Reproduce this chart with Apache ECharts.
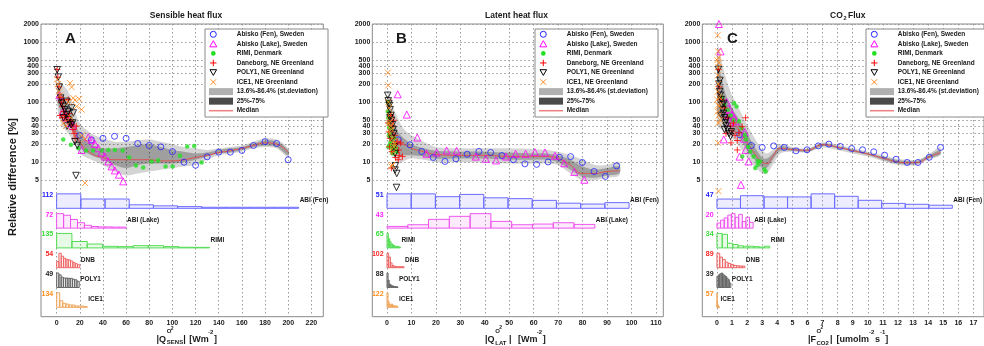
<!DOCTYPE html>
<html>
<head>
<meta charset="utf-8">
<script src="https://cdn.jsdelivr.net/npm/echarts@6/dist/echarts.min.js"></script>
<style>
  html, body { margin: 0; padding: 0; background: #fff; }
  #chart { width: 984px; height: 346px; }
</style>
</head>
<body>
<div id="chart"></div>
<script>
const FONT = '"Liberation Sans", Arial, sans-serif';

// ---- names / ticks ----
const stationNames = ['Abisko (Fen), Sweden', 'Abisko (Lake), Sweden', 'RIMI, Denmark',
  'Daneborg, NE Greenland', 'POLY1, NE Greenland', 'ICE1, NE Greenland'];
const histLabels = ['ABI (Fen)', 'ABI (Lake)', 'RIMI', 'DNB', 'POLY1', 'ICE1'];
const bandNames = ['13.6%-86.4% (st.deviation)', '25%-75%', 'Median'];
const yTicks = [5, 10, 20, 30, 40, 50, 100, 200, 300, 400, 500, 1000, 2000];
const xTicksA = [0, 20, 40, 60, 80, 100, 120, 140, 160, 180, 200, 220];
const xTicksB = [0, 10, 20, 30, 40, 50, 60, 70, 80, 90, 100, 110];
const xTicksC = [0, 1, 2, 3, 4, 5, 6, 7, 8, 9, 10, 11, 12, 13, 14, 15, 16, 17];

// ---- panel A: sensible heat flux ----
const fenA = [[20,28],[30,23.5],[40,25],[50,27],[60,25],[70,20.5],[80,19],[90,18],[100,15],[110,10],
  [120,8.9],[130,12.3],[140,14.7],[150,14.7],[160,15.7],[170,19],[180,22],[190,20.5],[200,11]];
const lakeA = [[2.3,130],[5.5,70],[8.5,55],[11.5,45],[14,40],[21.5,16],[27.3,26],[30.2,23.6],[33,20.2],
  [36,17.1],[38.8,14.5],[41.7,12.4],[44.6,10.3],[47.5,8.5],[50.3,7.3],[53.8,6.2],[57.5,4.8]];
const rimiA = [[5.7,24],[12.3,19.5],[18.7,17],[25.3,15.7],[31.6,15.7],[38.8,15.7],[44.6,16],[50.3,16],
  [57,15.7],[62.7,12],[68.5,8.8],[74.8,8.2],[82,10.3],[87.7,10.7],[94.1,8.5],[100.2,8.5],[106.5,12.8],
  [112.8,18.3],[118.8,18.7],[125.2,9.9]];
const danA = [[0.5,350],[1,260],[2,180],[3,120],[4,100],[5,85],[6,70],[7,60],[8,55],[9,50],[10,110],
  [11,65],[12,50],[13,42],[14,35],[15,30],[16,25],[6,110],[3,60],[5,55],[17,40]];
const polyA = [[0.5,346],[1.4,261],[2.3,178],[3.5,117],[4.3,96],[5.7,85],[7.2,75],[8.6,62],[10,51],
  [11.5,45],[12.4,42],[13.9,45],[14.4,66],[13,80],[10,70],[8.6,103],[6,55],[9,40],[15.8,22],[17.8,19],[16.7,6]];
const iceA = [[0.5,240],[1,200],[2,150],[3,130],[11.5,207],[13,178],[14.4,117],[15.8,108],[19.5,113],
  [21.6,75],[17.3,85],[10,100],[6,45],[8,40],[12,55],[22,28],[24.5,24],[24.5,4.5]];
const bandA_x   = [1, 5, 10, 15, 20, 30, 40, 50, 60, 70, 80, 90, 100, 110, 120, 130, 140, 150, 160, 170, 180, 190, 200];
const bandA_lo1 = [70, 40, 30, 22, 14, 11, 9, 7, 6, 6.5, 7, 7.5, 8, 8.5, 9, 11, 13, 14, 15, 17, 18, 17, 12];
const bandA_hi1 = [250, 200, 150, 80, 45, 30, 25, 22, 22, 23, 24, 22, 20, 18, 17, 16, 17, 18, 19, 22, 25, 24, 17];
const bandA_lo2 = [100, 60, 45, 30, 18, 13, 11, 9, 8, 9, 9.5, 9.5, 9.5, 10, 11, 12.5, 14, 14.5, 16, 18, 19, 18, 13];
const bandA_hi2 = [180, 130, 90, 50, 30, 20, 17, 17, 18, 19, 20, 18, 16, 15, 14, 14.5, 16, 17, 18, 20.5, 23, 22, 16];
const bandA_med = [150, 90, 60, 38, 22, 14, 12, 11, 11, 11, 11, 10.5, 10.5, 11, 12, 13, 14.5, 15.5, 17, 19, 21, 20, 14.5];
const histEndA = [209, 60, 132, 20, 19.5, 26.5];
const histA = [
  [112, 72, 72, 27, 19, 13, 8, 8, 8, 8],
  [72, 64, 43, 27, 14, 8, 6, 6, 5, 5],
  [135, 60, 36, 15, 12, 21, 21, 12, 6, 5],
  [23, 54, 43, 35, 31, 29, 25, 19, 15, 11],
  [49, 43, 35, 32, 32, 31, 31, 28, 26, 21],
  [134, 61, 37, 30, 21, 21, 12, 12, 12, 6]
];

// ---- panel B: latent heat flux ----
const fenB = [[4.6,23.6],[9.4,19.5],[14.2,15.1],[18.9,12],[23.7,10.3],[28.2,11.4],[32.8,13.6],[37.6,15.1],
  [42.4,14.5],[47,12.9],[51.7,11],[56.4,9.4],[61.2,9.2],[65.9,10.1],[70.5,12.1],[75.1,12.4],[79.9,9.9],
  [84.7,7],[89.3,5.8],[93.9,8.7]];
const lakeB = [[4.4,135],[8.1,62],[12.4,25.8],[16.2,13.8],[20.3,14.5],[24.4,15.7],[28.5,15.5],[36.3,12.4],
  [40.4,11.4],[44.6,10.7],[48.7,12.4],[52.6,13.8],[56.7,13.8],[60.5,14.7],[64.6,14.5],[68.7,12.8],
  [72.5,9.6],[76.6,6.9],[80.7,5.1]];
const rimiB = [[0.3,70],[0.5,55],[0.7,45],[0.9,38],[1.1,30],[1.3,26],[1.5,22],[1.7,18],[2,15],[2.3,14],
  [0.4,100],[0.8,28],[1.2,20],[1.6,35],[2.5,17],[3,25],[3.3,20],[3.6,17],[4,15],[0.6,18]];
const danB = [[1.5,60],[2.7,50],[0.8,32],[1.2,25],[3.2,28],[4.2,22],[4.8,16],[5,13],[4.6,11],[3.8,20],
  [2,15],[1.8,8],[3.5,12],[2.2,40],[0.5,45],[1,18],[5.6,21],[6.3,12.4]];
const polyB = [[0.3,130],[0.5,105],[0.8,95],[1,88],[1.3,75],[1.6,60],[1.9,50],[2.2,42],[2.5,35],[2.8,30],
  [3,18],[3.3,14],[3.4,8.7],[3.3,7.4],[4,6.5],[3.9,3.8],[1.2,55],[2,25]];
const iceB = [[0.4,310],[0.5,190],[0.6,100],[0.9,80],[1.1,60],[1.4,48],[1.8,35],[2.2,25],[2.6,22],[3,20],
  [2.8,18],[1.6,40],[1.2,30],[1.8,8.5],[2.1,9],[0.7,45],[2.4,15]];
const bandB_x   = [0.5, 2, 4, 6, 8, 10, 15, 20, 30, 40, 50, 60, 65, 70, 75, 80, 85, 90, 95];
const bandB_lo1 = [30, 15, 10, 10, 11, 11.5, 11, 10, 10, 10, 9.5, 9.5, 9.5, 9, 6.5, 5, 5, 5.5, 6];
const bandB_hi1 = [150, 90, 60, 40, 32, 28, 22, 18, 17, 17, 17, 16.5, 16, 15, 13, 11, 9, 9, 10];
const bandB_lo2 = [50, 22, 14, 13, 13, 13, 12.5, 11.5, 11.5, 11.5, 11, 11, 11, 10, 7.5, 5.8, 5.5, 6, 6.5];
const bandB_hi2 = [100, 60, 35, 27, 23, 20, 17, 15.5, 15, 15, 14.5, 14, 14, 13, 11, 8.5, 7.5, 8, 8.5];
const bandB_med = [70, 35, 22, 20, 19, 17, 15, 13.5, 13, 13, 12.5, 12.5, 12.5, 11.5, 9, 6.5, 6.5, 7, 7.2];
const histEndB = [99, 85, 5.5, 7, 4.5, 4.5];
const histB = [
  [51, 51, 41, 49, 37, 34, 28, 18, 15, 20],
  [5, 10, 26, 35, 43, 20, 10, 12, 16, 11],
  [65, 43, 29, 19, 14, 10, 7, 7, 6, 4],
  [102, 75, 34, 16, 11, 7, 7, 7, 7, 7],
  [88, 45, 21, 16, 10, 10, 6, 6, 4, 4],
  [122, 47, 28, 19, 28, 17, 14, 11, 11, 8]
];

// ---- panel C: CO2 flux ----
const fenC = [[1.5,28.6],[2.28,19],[3.0,17.6],[3.76,18.7],[4.46,17.6],[5.24,15.5],[5.97,16.1],[6.72,18.7],
  [7.42,20],[8.17,18.3],[8.93,16.9],[9.65,16.1],[10.39,14.9],[11.11,13.1],[11.87,11.2],[12.61,9.9],
  [13.32,9.9],[14.07,12.1],[14.82,17.6]];
const lakeC = [[0.13,2000],[0.24,700],[0.45,24],[0.65,100],[0.85,75],[1.0,62],[1.15,55],[1.25,48],[0.9,45],
  [1.5,12.4],[1.59,4.2],[1.78,24.6],[1.9,16],[2.1,10.3],[1.85,32],[0.75,60]];
const rimiC = [[1.14,96],[1.3,85],[1.46,48],[1.63,37],[1.85,28],[1.93,24],[2.06,18],[2.21,15],[2.43,12.4],
  [2.71,10.5],[2.86,10.3],[3.14,7.6],[3.23,7],[2.7,9],[2.54,8],[1.68,12.4],[0.5,90],[0.7,75],[0.9,60],
  [1.1,50],[0.3,120]];
const danC = [[0.1,350],[0.15,180],[0.3,110],[0.5,80],[0.7,55],[0.9,40],[1.0,33],[1.2,28],[1.46,31],
  [1.67,39],[1.9,55],[1.35,23],[0.93,21],[1.35,16],[0.6,30],[1.1,45]];
const polyC = [[0.1,350],[0.12,200],[0.18,150],[0.22,130],[0.28,110],[0.33,90],[0.38,75],[0.43,65],
  [0.5,55],[0.55,45],[0.6,40],[0.7,35],[0.8,30],[0.9,27],[0.95,32],[0.3,60],[0.6,50],[0.45,95],[0.2,230],[0.5,35]];
const iceC = [[0.05,1300],[0.08,700],[0.1,550],[0.12,450],[0.1,380],[0.06,280],[0.08,200],[0.15,120],
  [0.1,90],[0.05,70],[0.12,60],[0.2,50],[0.1,45],[0.08,21],[0.1,3.3],[0.03,500],[0.06,150],[0.14,85],[0.02,110]];
const bandC_x   = [0.05, 0.3, 0.6, 1.0, 1.5, 2.0, 2.5, 3.0, 3.3, 3.7, 4.2, 5, 6, 7, 8, 9, 10, 11, 12, 12.6, 13.3, 14, 14.8];
const bandC_lo1 = [40, 35, 30, 25, 18, 12, 8.5, 6.5, 6.5, 9, 14, 15, 14.5, 17.5, 16, 14, 12.5, 10.5, 9, 8.8, 9, 11, 13];
const bandC_hi1 = [900, 500, 250, 130, 75, 42, 25, 16, 14, 16, 20, 18, 17, 21.5, 19.5, 17, 15, 13, 11.3, 11, 11, 13.5, 18];
const bandC_lo2 = [60, 55, 45, 35, 25, 16, 11, 8, 8, 11, 15.5, 15.5, 15, 18.5, 17, 15, 13.2, 11, 9.4, 9.2, 9.4, 11.5, 13.5];
const bandC_hi2 = [500, 250, 130, 80, 50, 30, 18, 12, 11.5, 14, 18.5, 17, 16.5, 20.5, 18.5, 16.3, 14.3, 12.3, 10.8, 10.5, 10.5, 12.8, 16];
const bandC_med = [150, 110, 70, 50, 33, 21, 14, 10, 9.5, 12.5, 17, 16.2, 15.8, 19.5, 17.8, 15.6, 13.7, 11.7, 10.1, 9.8, 9.9, 12, 14.5];
const histEndC = [15.6, 2.4, 3.5, 1.85, 0.92, 0.17];
const histC = [
  [30, 41, 37, 37, 47, 39, 26, 16, 13, 10],
  [7, 11, 14, 18, 20, 15, 19, 9, 15, 8],
  [34, 32, 11, 8, 5, 4, 4, 3, 2, 4],
  [89, 65, 50, 34, 26, 20, 14, 12, 10, 10],
  [30, 34, 37, 39, 36, 32, 30, 25, 21, 12],
  [57, 26, 16, 10, 6, 4, 3, 2, 1, 1]
];

// ---- styles ----
const stationColor = ['#2222ff', '#ff00ff', '#22e022', '#ff0000', '#000000', '#ff8a1e'];
const markers = [
  { symbol: 'circle', size: 6, itemStyle: { color: 'none', borderColor: stationColor[0], borderWidth: 1 } },
  { symbol: 'triangle', size: 7, itemStyle: { color: 'none', borderColor: stationColor[1], borderWidth: 1 } },
  { symbol: 'circle', size: 4.5, itemStyle: { color: stationColor[2] } },
  { symbol: 'path://M5,0L5,10M0,5L10,5', size: 6.5, itemStyle: { color: 'none', borderColor: stationColor[3], borderWidth: 1 } },
  { symbol: 'path://M0,0L10,0L5,8.66Z', size: 6.5, itemStyle: { color: 'none', borderColor: stationColor[4], borderWidth: 1 } },
  { symbol: 'path://M0,0L10,10M10,0L0,10', size: 6, itemStyle: { color: 'none', borderColor: stationColor[5], borderWidth: 1 } }
];
const histStroke = ['#6b6bff', '#ee55ee', '#55dd55', '#ee6666', '#666666', '#f0a860'];
const histFill = ['rgba(107,107,255,0.12)', 'rgba(238,85,238,0.12)', 'rgba(85,221,85,0.15)',
  'rgba(238,102,102,0.12)', 'rgba(102,102,102,0.15)', 'rgba(240,168,96,0.15)'];
const countColor = ['#2222ff', '#ff22ff', '#33dd33', '#ff2222', '#222222', '#ff8c1a'];

const panels = [
  { left: 41, width: 282.3, min: -13.5, max: 230.3, ticks: xTicksA, legendLeft: 205,
    scatter: [fenA, lakeA, rimiA, danA, polyA, iceA],
    bx: bandA_x, lo1: bandA_lo1, hi1: bandA_hi1, lo2: bandA_lo2, hi2: bandA_hi2, med: bandA_med,
    hist: histA, histEnd: histEndA },
  { left: 372.3, width: 291, min: -6, max: 113, ticks: xTicksB, legendLeft: 535,
    scatter: [fenB, lakeB, rimiB, danB, polyB, iceB],
    bx: bandB_x, lo1: bandB_lo1, hi1: bandB_hi1, lo2: bandB_lo2, hi2: bandB_hi2, med: bandB_med,
    hist: histB, histEnd: histEndB },
  { left: 702.3, width: 291, min: -0.97, max: 17.7, ticks: xTicksC, legendLeft: 866,
    scatter: [fenC, lakeC, rimiC, danC, polyC, iceC],
    bx: bandC_x, lo1: bandC_lo1, hi1: bandC_hi1, lo2: bandC_lo2, hi2: bandC_hi2, med: bandC_med,
    hist: histC, histEnd: histEndC }
];

const grid = [], xAxis = [], yAxis = [], series = [], graphic = [];
const tickFont = { fontSize: 7, fontWeight: 'bold', fontFamily: FONT, color: '#1a1a1a' };
const dotted = { show: true, lineStyle: { color: '#9a9a9a', width: 1, type: [1.5, 2.5] } };

function bandSeries(axis, xs, lo, hi, name, color, z) {
  return {
    type: 'custom', name, xAxisIndex: axis, yAxisIndex: axis, z, silent: true,
    data: [[xs[0], hi[0]]],
    renderItem: (params, api) => {
      const upper = xs.map((x, k) => api.coord([x, hi[k]]));
      const lower = xs.map((x, k) => api.coord([x, lo[k]])).reverse();
      return { type: 'polygon', shape: { points: upper.concat(lower), smooth: 0.3 }, style: { fill: color } };
    }
  };
}

function txt(x, y, text, size, align, rotation) {
  return { type: 'text', x, y, rotation: rotation || 0, z: 12,
    style: { text, fontSize: size, fontWeight: 'bold', fontFamily: FONT, fill: '#1a1a1a',
      align: align || 'left', verticalAlign: 'middle' } };
}

// legend box drawn as graphic: marker sample, patch or line, then the label
function legendBox(left) {
  const out = [{ type: 'rect', z: 11, shape: { x: left, y: 29, width: 123, height: 88 },
    style: { fill: '#ffffff', stroke: '#8a8a8a', lineWidth: 1 } }];
  const mx = left + 8.3;
  const rowY = r => 34.3 + r * 9.55;
  const ln = (x1, y1, x2, y2, c, w) => ({ type: 'line', z: 12,
    shape: { x1, y1, x2, y2 }, style: { stroke: c, lineWidth: w || 1 } });
  let y = rowY(0);
  out.push({ type: 'circle', z: 12, shape: { cx: mx, cy: y, r: 3 }, style: { fill: 'none', stroke: stationColor[0], lineWidth: 1 } });
  y = rowY(1);
  out.push({ type: 'polygon', z: 12, shape: { points: [[mx - 3.5, y + 3], [mx + 3.5, y + 3], [mx, y - 3.2]] },
    style: { fill: 'none', stroke: stationColor[1], lineWidth: 1 } });
  y = rowY(2);
  out.push({ type: 'circle', z: 12, shape: { cx: mx, cy: y, r: 2.3 }, style: { fill: stationColor[2] } });
  y = rowY(3);
  out.push(ln(mx - 3.2, y, mx + 3.2, y, stationColor[3]), ln(mx, y - 3.2, mx, y + 3.2, stationColor[3]));
  y = rowY(4);
  out.push({ type: 'polygon', z: 12, shape: { points: [[mx - 3.3, y - 2.8], [mx + 3.3, y - 2.8], [mx, y + 2.9]] },
    style: { fill: 'none', stroke: stationColor[4], lineWidth: 1 } });
  y = rowY(5);
  out.push(ln(mx - 2.8, y - 2.8, mx + 2.8, y + 2.8, stationColor[5]), ln(mx - 2.8, y + 2.8, mx + 2.8, y - 2.8, stationColor[5]));
  out.push({ type: 'rect', z: 12, shape: { x: left + 4, y: rowY(6) - 3.5, width: 24, height: 7 }, style: { fill: '#b0b0b0' } });
  out.push({ type: 'rect', z: 12, shape: { x: left + 4, y: rowY(7) - 3.5, width: 24, height: 7 }, style: { fill: '#4a4a4a' } });
  out.push(ln(left + 4, rowY(8), left + 28, rowY(8), '#f08080', 1.5));
  stationNames.concat(bandNames).forEach((s, r) => out.push(txt(left + 31.7, rowY(r), s, 6.5)));
  return out;
}

panels.forEach((p, i) => {
  const m = 2 * i, h = 2 * i + 1;
  grid.push({ left: p.left, top: 24, width: p.width, height: 292.7, show: true,
    borderColor: '#8a8a8a', borderWidth: 1, backgroundColor: 'transparent' });
  grid.push({ left: p.left, top: 188.5, width: p.width, height: 118.8, show: false });

  xAxis.push({ type: 'value', gridIndex: m, min: p.min, max: p.max,
    axisLine: { show: false }, axisTick: { show: false, customValues: p.ticks },
    axisLabel: Object.assign({ customValues: p.ticks, margin: 3 }, tickFont),
    splitLine: dotted });
  xAxis.push({ type: 'value', gridIndex: h, min: p.min, max: p.max, show: false });

  yAxis.push({ type: 'log', logBase: 10, gridIndex: m, min: 0.0268, max: 2000,
    axisLine: { show: false }, axisTick: { show: false, customValues: yTicks },
    axisLabel: Object.assign({ customValues: yTicks, margin: 2,
      formatter: v => String(+Number(v).toPrecision(4)) }, tickFont),
    splitLine: dotted });
  yAxis.push({ type: 'value', gridIndex: h, min: 0, max: 6, show: false });

  series.push(bandSeries(m, p.bx, p.lo1, p.hi1, bandNames[0], 'rgba(0,0,0,0.17)', 1));
  series.push(bandSeries(m, p.bx, p.lo2, p.hi2, bandNames[1], 'rgba(0,0,0,0.25)', 1));
  series.push({ type: 'line', name: bandNames[2], xAxisIndex: m, yAxisIndex: m, z: 2,
    smooth: true, symbol: 'none', silent: true,
    lineStyle: { color: '#e84848', width: 0.9 }, itemStyle: { color: '#e84848' },
    data: p.bx.map((x, k) => [x, p.med[k]]) });

  p.scatter.forEach((pts, k) => {
    series.push({ type: 'scatter', name: stationNames[k], xAxisIndex: m, yAxisIndex: m, z: 3,
      symbol: markers[k].symbol, symbolSize: markers[k].size, itemStyle: markers[k].itemStyle,
      silent: true, data: pts });
  });

  series.push({
    type: 'custom', xAxisIndex: h, yAxisIndex: h, z: 4, silent: true,
    data: [0, 1, 2, 3, 4, 5].map(k => [0, 5 - k]),
    renderItem: (params, api) => {
      const k = params.dataIndex;
      const counts = p.hist[k], end = p.histEnd[k], slot = 5 - k, n = counts.length;
      const mx = Math.max.apply(null, counts);
      const children = counts.map((c, j) => {
        const a = api.coord([end * j / n, slot + c / mx * 0.73]);
        const b = api.coord([end * (j + 1) / n, slot]);
        return { type: 'rect', shape: { x: a[0], y: a[1], width: b[0] - a[0], height: b[1] - a[1] },
          style: { fill: histFill[k], stroke: histStroke[k], lineWidth: 1 } };
      });
      const top = api.coord([0, slot + 0.73]);
      children.push({ type: 'text', x: top[0] - 3.4, y: top[1] + 1,
        style: { text: String(mx), fill: countColor[k], align: 'right', verticalAlign: 'middle',
          fontSize: 7, fontWeight: 'bold', fontFamily: FONT } });
      const nm = api.coord([end, slot + 0.4]);
      children.push({ type: 'text', x: nm[0] + 1, y: nm[1],
        style: { text: histLabels[k], fill: '#1a1a1a', align: 'left', verticalAlign: 'middle',
          fontSize: 6.5, fontWeight: 'bold', fontFamily: FONT } });
      return { type: 'group', children };
    }
  });

  graphic.push.apply(graphic, legendBox(p.legendLeft));
});

graphic.push(
  txt(186, 15.5, 'Sensible heat flux', 8.5, 'center'),
  txt(516.5, 15.5, 'Latent heat flux', 8.5, 'center'),
  txt(830, 15.5, 'CO', 8.5), txt(843.5, 18.5, '2', 5.5), txt(848, 15.5, 'Flux', 8.5),
  txt(65, 38.5, 'A', 15), txt(396, 38.5, 'B', 15), txt(727, 38.5, 'C', 15),
  txt(13, 177, 'Relative difference [%]', 11, 'center', Math.PI / 2),
  // panel A axis name
  txt(156.5, 339.3, '|Q', 9), txt(166.8, 331.5, 'O', 6), txt(170.8, 328.5, '2', 5),
  txt(166.8, 342.8, 'SENS', 6), txt(183.3, 339.3, '|', 9),
  txt(189.3, 339.3, '[Wm', 9), txt(208, 332, '-2', 6), txt(214, 339.3, ']', 9),
  // panel B axis name
  txt(485, 339.3, '|Q', 9), txt(495.3, 331, 'O', 6), txt(499.3, 328, '2', 5),
  txt(495.3, 343, 'LAT', 6), txt(509, 339.3, '|', 9),
  txt(518, 339.3, '[Wm', 9), txt(536.7, 332, '-2', 6), txt(542.7, 339.3, ']', 9),
  // panel C axis name
  txt(808, 339.3, '|F', 9), txt(816.5, 331, 'O', 6), txt(820.5, 328, '2', 5),
  txt(816.5, 343, 'CO2', 6), txt(830, 339.3, '|', 9),
  txt(836.5, 339.3, '[umolm', 9), txt(869, 332, '-2', 6), txt(875, 339.3, 's', 9),
  txt(880, 332, '-1', 6), txt(885.3, 339.3, ']', 9)
);

const chart = echarts.init(document.getElementById('chart'));
chart.setOption({
  animation: false,
  backgroundColor: '#ffffff',
  grid, xAxis, yAxis, series, graphic
});
</script>
</body>
</html>
